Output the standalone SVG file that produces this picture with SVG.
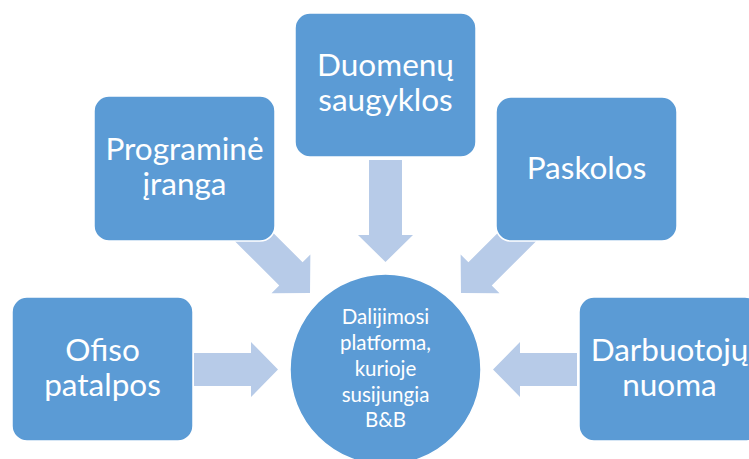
<svg xmlns="http://www.w3.org/2000/svg" width="749" height="459" viewBox="0 0 749 459">
<style>
.box{fill:#5B9BD5;stroke:#FFFFFF;stroke-width:1.5}
.arr{fill:#B7CBE8}
.t{font-family:Lato,"Open Sans","Liberation Sans",sans-serif;fill:#FFFFFF;text-anchor:middle}
.big{font-size:31.5px}
.small{font-size:20.5px}
</style>
<rect width="749" height="459" fill="#FFFFFF"/>
<g id="connectors">
<path class="arr" transform="translate(194,369.5)" d="M0,-16.5 H57 V-27.5 L84,0 L57,27.5 V16.5 H0 Z"/>
<path class="arr" transform="translate(577,369.5) rotate(180)" d="M0,-16.5 H57 V-27.5 L84,0 L57,27.5 V16.5 H0 Z"/>
<path class="arr" transform="translate(385.5,160) rotate(90)" d="M0,-16.5 H75 V-27.5 L102,0 L75,27.5 V16.5 H0 Z"/>
<path class="arr" transform="translate(239.3,222.3) rotate(45)" d="M0,-16.5 H73 V-27.5 L100,0 L73,27.5 V16.5 H0 Z"/>
<path class="arr" transform="translate(531.7,222.3) rotate(135)" d="M0,-16.5 H73 V-27.5 L100,0 L73,27.5 V16.5 H0 Z"/>
</g>
<g id="node-programine">
<rect class="box" x="94" y="96" width="181" height="145" rx="15"/>
<text class="t big" x="184.5" y="160">Programinė</text>
<text class="t big" x="184.5" y="195">įranga</text>
</g>
<g id="node-duomenu">
<rect class="box" x="295" y="13" width="181" height="144" rx="15"/>
<text class="t big" x="385.5" y="76">Duomenų</text>
<text class="t big" x="385.5" y="111">saugyklos</text>
</g>
<g id="node-paskolos">
<rect class="box" x="496" y="97" width="181" height="144" rx="15"/>
<text class="t big" x="586.5" y="179">Paskolos</text>
</g>
<g id="node-ofiso">
<rect class="box" x="12" y="297" width="181" height="144" rx="15"/>
<text class="t big" x="102.5" y="361">Ofiso</text>
<text class="t big" x="102.5" y="396">patalpos</text>
</g>
<g id="node-darbuotoju">
<rect class="box" x="579" y="297" width="181" height="144" rx="15"/>
<text class="t big" x="669.5" y="361">Darbuotojų</text>
<text class="t big" x="669.5" y="396">nuoma</text>
</g>
<g id="node-platforma">
<circle class="box" cx="385.5" cy="369.5" r="95.5"/>
<text class="t small" x="385.5" y="324">Dalijimosi</text>
<text class="t small" x="385.5" y="350">platforma,</text>
<text class="t small" x="385.5" y="376">kurioje</text>
<text class="t small" x="385.5" y="402">susijungia</text>
<text class="t small" x="385.5" y="427">B&amp;B</text>
</g>
</svg>
